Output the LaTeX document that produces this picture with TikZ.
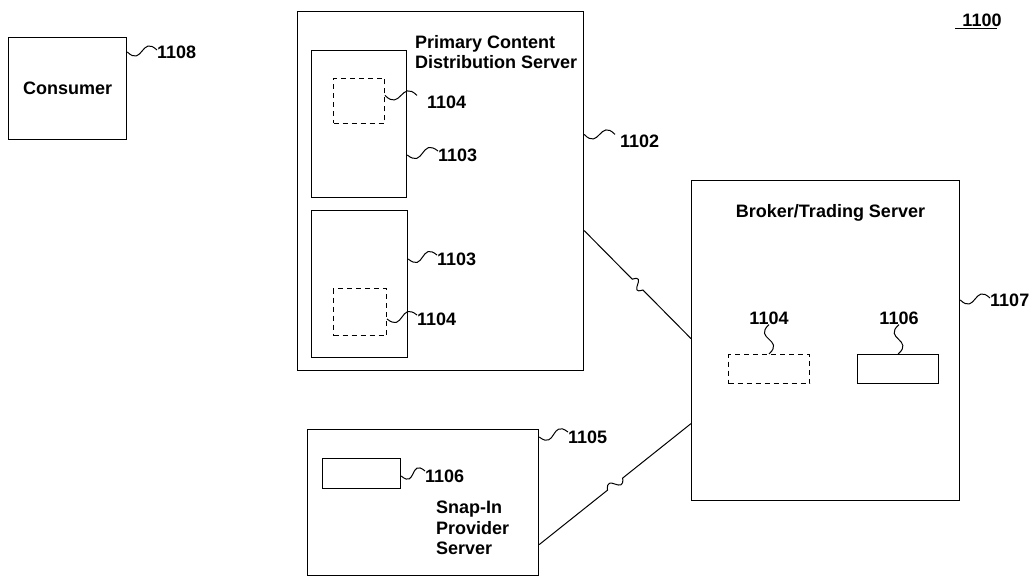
\documentclass[tikz,border=0pt]{standalone}
\usepackage{fontspec}
\setmainfont{Liberation Sans}
\usetikzlibrary{calc}
\begin{document}
\begin{tikzpicture}[x=1pt, y=-1pt,
    box/.style={draw, line width=1.2pt, inner sep=0pt, anchor=north west},
    dbox/.style={box, line width=1pt, dash pattern=on 5pt off 4pt},
    txt/.style={font=\bfseries\fontsize{18}{20}\selectfont, inner sep=0pt},
    num/.style={txt, anchor=west},
    lead/.style={line width=1pt, to path={.. controls ($(\tikztostart)!.5!(\tikztotarget)!16pt!-90:(\tikztotarget)$) and ($(\tikztostart)!.5!(\tikztotarget)!16pt!90:(\tikztotarget)$) .. (\tikztotarget)}},
    link/.style={line width=1pt, to path={-- ($(\tikztostart)!.45!(\tikztotarget)$) .. controls ($(\tikztostart)!.5!(\tikztotarget)!15pt!90:(\tikztotarget)$) and ($(\tikztostart)!.5!(\tikztotarget)!15pt!-90:(\tikztotarget)$) .. ($(\tikztostart)!.55!(\tikztotarget)$) -- (\tikztotarget)}}
  ]
  \useasboundingbox (0,0) rectangle (1032,577);

  \node[box, txt, minimum width=118pt, minimum height=102pt] (consumer) at (8,37) {Consumer};
  \node[box, minimum width=286pt, minimum height=359pt] (pcds) at (297,11) {};
  \node[box, minimum width=95pt, minimum height=147pt] (store1) at (311,50) {};
  \node[dbox, minimum width=51pt, minimum height=45pt] (cache1) at (333,78) {};
  \node[box, minimum width=96pt, minimum height=147pt] (store2) at (311,210) {};
  \node[dbox, minimum width=53pt, minimum height=47pt] (cache2) at (333,288) {};
  \node[box, minimum width=268pt, minimum height=320pt] (broker) at (691,180) {};
  \node[dbox, minimum width=81pt, minimum height=29pt] (bcache) at (728,354) {};
  \node[box, minimum width=81pt, minimum height=29pt] (bsnap) at (857,354) {};
  \node[box, minimum width=231pt, minimum height=146pt] (snapin) at (307,429) {};
  \node[box, minimum width=78pt, minimum height=30pt] (ssnap) at (322,458) {};

  \node[txt, anchor=north west, align=left] (pcdst) at (415,35) {Primary Content\\Distribution Server};
  \node[txt, anchor=base] (brokert) at (830.5,218) {Broker/Trading Server};
  \node[txt, anchor=north west, align=left, font=\bfseries\fontsize{18}{20.5}\selectfont] (snapint) at (436,501) {Snap-In\\Provider\\Server};

  \node[num] (n1108) at (157,52) {1108};
  \node[num] (n1104a) at (427,102) {1104};
  \node[num] (n1103a) at (438,155) {1103};
  \node[num] (n1103b) at (437,259) {1103};
  \node[num] (n1104b) at (417,319) {1104};
  \node[num] (n1102) at (620,141) {1102};
  \node[num] (n1107) at (990,300) {1107};
  \node[txt] (n1104c) at (769,318) {1104};
  \node[txt] (n1106c) at (899,318) {1106};
  \node[num] (n1105) at (568,437) {1105};
  \node[num] (n1106s) at (425,476) {1106};
  \node[txt] (n1100) at (982,20) {1100};

  \draw[lead] (consumer.east |- n1108.west) to ([yshift=2pt]n1108.west);
  \draw[lead] (cache1.east |- n1104a.north) to ([xshift=-10pt]n1104a.north west);
  \draw[lead] (store1.east |- n1103a.west) to ([yshift=4pt]n1103a.west);
  \draw[lead] (store2.east |- n1103b.west) to ([yshift=4pt]n1103b.west);
  \draw[lead] (cache2.east |- n1104b.west) to ([yshift=4pt]n1104b.west);
  \draw[lead] (pcds.east |- n1102.north) to ([xshift=-5pt]n1102.north west);
  \draw[lead] (broker.east |- n1107.west) to ([yshift=2pt]n1107.west);
  \draw[lead] (n1104c.south) to (bcache.north);
  \draw[lead] (n1106c.south) to (bsnap.north);
  \draw[lead] (snapin.east |- n1105.west) to ([yshift=5pt]n1105.west);
  \draw[lead] (ssnap.east |- n1106s.west) to ([yshift=5pt]n1106s.west);
  \draw[line width=1pt] ([xshift=-7pt,yshift=-1.5pt]n1100.south west) -- ([xshift=-5pt,yshift=-1.5pt]n1100.south east);

  \draw[link] ([yshift=-39.5pt]pcds.east) to ([yshift=2pt]broker.west);
  \draw[link] ([yshift=-42pt]snapin.east) to ([yshift=-83pt]broker.west);
\end{tikzpicture}
\end{document}
